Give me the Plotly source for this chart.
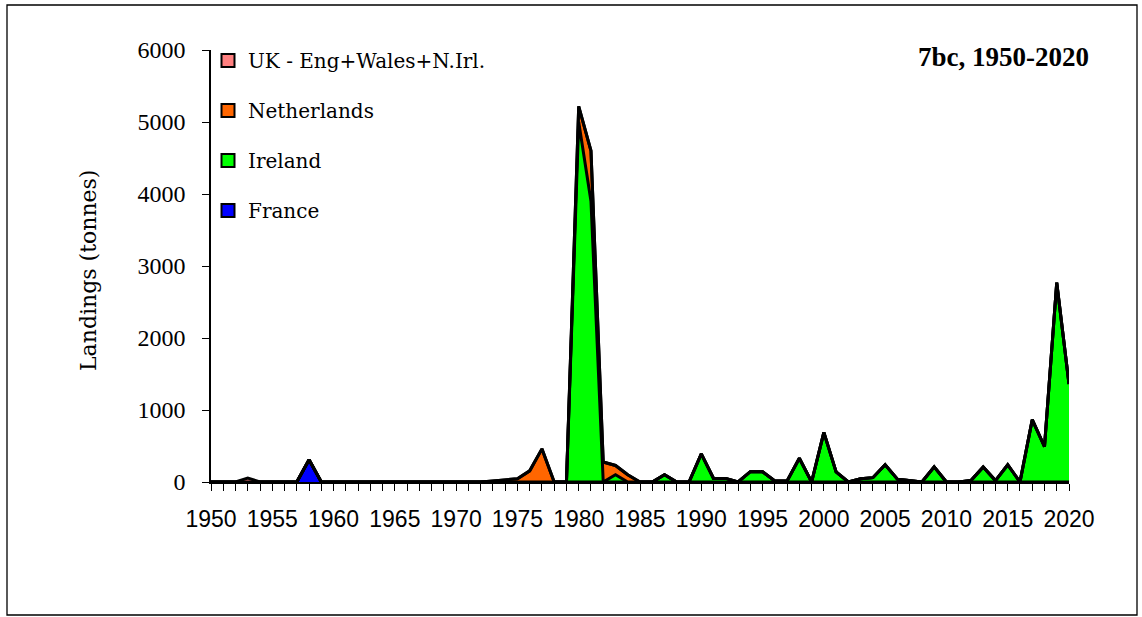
import plotly.graph_objects as go

years = list(range(1950, 2021))

# Landings (tonnes) by country, 1950-2020
uk = [0, 0, 0, 55, 0, 0, 0, 0, 0, 0,
      0, 0, 0, 0, 0, 0, 0, 0, 0, 0,
      0, 0, 0, 0, 0, 0, 0, 0, 0, 0,
      0, 0, 0, 0, 0, 0, 0, 0, 0, 0,
      0, 0, 0, 0, 0, 0, 0, 0, 0, 0,
      0, 0, 0, 0, 0, 0, 0, 0, 0, 0,
      0, 0, 0, 0, 0, 0, 0, 0, 0, 0,
      0]
netherlands = [0, 0, 0, 0, 0, 0, 0, 0, 0, 0,
               0, 0, 0, 0, 0, 0, 0, 0, 0, 0,
               0, 0, 0, 15, 25, 45, 155, 460, 0, 0,
               217, 700, 277, 130, 100, 0, 0, 0, 0, 0,
               0, 0, 0, 0, 0, 0, 0, 0, 0, 0,
               0, 0, 0, 0, 0, 0, 0, 0, 0, 0,
               0, 0, 0, 0, 0, 0, 0, 0, 0, 0,
               0]
ireland = [0, 0, 0, 0, 0, 0, 0, 0, 0, 0,
           0, 0, 0, 0, 0, 0, 0, 0, 0, 0,
           0, 0, 0, 0, 0, 0, 0, 0, 0, 0,
           5000, 3900, 0, 100, 0, 0, 0, 100, 0, 0,
           390, 50, 50, 0, 143, 143, 15, 15, 330, 0,
           690, 140, 0, 45, 60, 240, 40, 20, 0, 210,
           0, 0, 20, 210, 20, 240, 0, 865, 490, 2770,
           1360]
france = [0, 0, 0, 0, 0, 0, 0, 0, 310, 0,
          0, 0, 0, 0, 0, 0, 0, 0, 0, 0,
          0, 0, 0, 0, 0, 0, 0, 0, 0, 0,
          0, 0, 0, 0, 0, 0, 0, 0, 0, 0,
          0, 0, 0, 0, 0, 0, 0, 0, 0, 0,
          0, 0, 0, 0, 0, 0, 0, 0, 0, 0,
          0, 0, 0, 0, 0, 0, 0, 0, 0, 0,
          0]

series_names = ["France", "Ireland", "Netherlands", "UK - Eng+Wales+N.Irl."]
series_values = [france, ireland, netherlands, uk]
series_colors = ["#0000FF", "#00FF00", "#FF6600", "#FF8080"]

x_tick_labels = [str(y) for y in range(1950, 2021, 5)]
y_tick_vals = [0, 1000, 2000, 3000, 4000, 5000, 6000]

SERIF = "Liberation Serif"
WSERIF = "DejaVu Serif"
SANS = "Liberation Sans"

fig = go.Figure()

# stacked areas (bottom to top)
for name, vals, col in zip(series_names, series_values, series_colors):
    fig.add_trace(go.Scatter(
        x=years, y=vals, name=name, stackgroup="one", mode="lines",
        line=dict(color="black", width=3), fillcolor=col,
        showlegend=False, hoverinfo="x+y+name"))

# legend entries (top to bottom as in reference)
for name, col in zip(series_names[::-1], series_colors[::-1]):
    fig.add_trace(go.Scatter(
        x=[None], y=[None], mode="markers", name=name, legendgroup=name,
        marker=dict(symbol="square", size=13, color=col,
                    line=dict(color="black", width=2)),
        showlegend=True))

L, R, T, B = 211, 73, 50, 135
W, H = 1142, 617
pw, ph = W - L - R, H - T - B

def px(x):
    return (x - L) / pw

def py(y):
    return (H - B - y) / ph

fig.update_layout(
    width=W, height=H,
    margin=dict(l=L, r=R, t=T, b=B, pad=0),
    paper_bgcolor="white", plot_bgcolor="white",
    showlegend=True,
    legend=dict(x=px(208), y=py(41), xanchor="left", yanchor="top",
                bgcolor="rgba(0,0,0,0)", traceorder="grouped",
                tracegroupgap=21,
                font=dict(family=WSERIF, size=20, color="black")),
    xaxis=dict(range=[1950, 2020], tickmode="array",
               tickvals=[int(t) for t in x_tick_labels], ticktext=x_tick_labels,
               ticks="outside", ticklen=7, tickwidth=1.3, tickcolor="black",
               minor=dict(dtick=1, tick0=1950, ticks="outside", ticklen=7,
                          tickwidth=1.3, tickcolor="black"),
               showline=True, linecolor="black", linewidth=1.5,
               showgrid=False, zeroline=False, ticklabelstandoff=9,
               tickfont=dict(family=SANS, size=23, color="black")),
    yaxis=dict(range=[0, 6000], tickmode="array", tickvals=y_tick_vals,
               ticks="outside", ticklen=7, tickwidth=1.3, tickcolor="black",
               showline=True, linecolor="black", linewidth=1.5,
               showgrid=False, zeroline=False, ticklabelstandoff=12,
               tickfont=dict(family=SERIF, size=24, color="black")),
    shapes=[dict(type="rect", xref="paper", yref="paper",
                 x0=px(7), x1=px(1137), y0=py(615), y1=py(5),
                 line=dict(color="black", width=1.3), fillcolor="rgba(0,0,0,0)",
                 layer="below")],
    annotations=[
        dict(text="Landings (tonnes)", xref="paper", yref="paper",
             x=px(88), y=py(271), textangle=-90, showarrow=False,
             xanchor="center", yanchor="middle",
             font=dict(family=WSERIF, size=22, color="black")),
        dict(text="<b>7bc, 1950-2020</b>", xref="paper", yref="paper",
             x=px(1091), y=py(57), showarrow=False,
             xanchor="right", yanchor="middle",
             font=dict(family=SERIF, size=27, color="black")),
    ],
)

fig.write_html("out.html")
